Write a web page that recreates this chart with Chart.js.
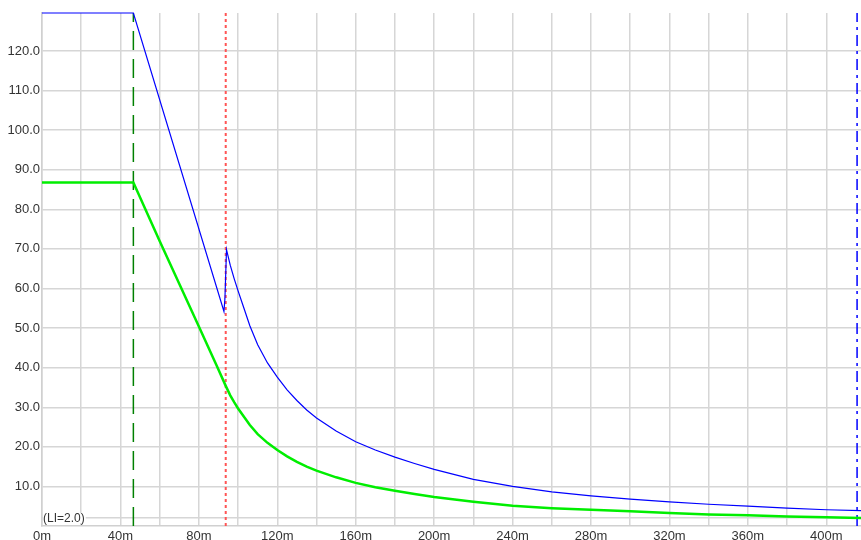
<!DOCTYPE html>
<html>
<head>
<meta charset="utf-8">
<script src="https://cdn.jsdelivr.net/npm/chart.js@4/dist/chart.umd.min.js"></script>
<style>
    html, body { margin: 0; padding: 0; background: #fff; }
    #wrap { width: 861px; height: 540px; position: relative; }
</style>
</head>
<body>
<div id="wrap"><canvas id="profile"></canvas></div>
<script>
// upper curve (blue)
const blueDist = [0, 46.6, 92.8, 93.3, 94.1, 96, 98, 100, 103, 106, 110, 115, 120, 125, 130, 135, 140, 150, 160, 170, 180, 190, 200, 220, 240, 260, 280, 300, 320, 340, 360, 380, 400, 417.7];
const blueVals = [129.6, 129.6, 54.2, 57.5, 69.8, 65.9, 62.5, 59.4, 55.0, 50.6, 45.8, 41.2, 37.6, 34.4, 31.7, 29.3, 27.3, 24.0, 21.3, 19.2, 17.4, 15.8, 14.3, 11.8, 10.0, 8.6, 7.6, 6.8, 6.1, 5.5, 5.0, 4.5, 4.1, 3.9];

// lower curve (green)
const greenDist = [0, 46.6, 60, 70, 80, 89, 93.7, 96, 98, 100, 103, 106, 110, 115, 120, 125, 130, 135, 140, 150, 160, 170, 180, 190, 200, 220, 240, 260, 280, 300, 320, 340, 360, 380, 400, 417.7];
const greenVals = [86.8, 86.8, 72.0, 61.2, 50.4, 40.6, 35.4, 33.0, 31.3, 29.7, 27.6, 25.5, 23.2, 21.0, 19.2, 17.6, 16.2, 15.0, 14.0, 12.3, 10.9, 9.8, 8.9, 8.1, 7.3, 6.1, 5.1, 4.5, 4.1, 3.7, 3.3, 2.9, 2.7, 2.4, 2.2, 2.0];

// vertical markers
const markerDist = [46.6, 93.7, 415.7];
const markerColors = ['#008000', '#ff5555', '#0000ff'];
const markerWidths = [1.5, 2, 1.5];
const markerDashes = [[19, 9], [3, 3], [11, 5, 3, 5]];

// tick values
const xTicks = [0, 20, 40, 60, 80, 100, 120, 140, 160, 180, 200, 220, 240, 260, 280, 300, 320, 340, 360, 380, 400];
const yTicks = [2, 10, 20, 30, 40, 50, 60, 70, 80, 90, 100, 110, 120];
const limitValue = 2.0;
const xMax = 417.7;
const yMax = 129.6;

const toPoints = (xs, ys) => xs.map((x, i) => ({ x: x, y: ys[i] }));

const datasets = [
    {
        data: toPoints(greenDist, greenVals),
        borderColor: '#00ee00',
        borderWidth: 2.5,
        pointRadius: 0,
        tension: 0,
        clip: 4
    },
    {
        data: toPoints(blueDist, blueVals),
        borderColor: '#0000ff',
        borderWidth: 1.2,
        pointRadius: 0,
        tension: 0,
        clip: 4
    }
];
markerDist.forEach((d, i) => {
    datasets.push({
        data: [{ x: d, y: 0 }, { x: d, y: yMax }],
        borderColor: markerColors[i],
        borderWidth: markerWidths[i],
        borderDash: markerDashes[i],
        pointRadius: 0
    });
});

const limitLabel = {
    id: 'limitLabel',
    afterDatasetsDraw(chart) {
        const ctx = chart.ctx;
        const y = chart.scales.y.getPixelForValue(limitValue);
        const x = chart.chartArea.left + 1;
        const text = '(LI=' + limitValue.toFixed(1) + ')';
        ctx.save();
        ctx.font = '12px "Liberation Sans", Arial, sans-serif';
        const w = ctx.measureText(text).width;
        ctx.fillStyle = '#ffffff';
        ctx.fillRect(x, y - 5, w + 1, 10);
        ctx.fillStyle = '#333333';
        ctx.textBaseline = 'middle';
        ctx.fillText(text, x, y + 0.5);
        ctx.restore();
    }
};

new Chart(document.getElementById('profile'), {
    type: 'line',
    data: { datasets },
    options: {
        responsive: true,
        maintainAspectRatio: false,
        animation: false,
        layout: { padding: { top: 13, right: 0, left: 0, bottom: 0 } },
        plugins: { legend: { display: false }, tooltip: { enabled: false } },
        scales: {
            x: {
                type: 'linear',
                min: 0,
                max: xMax,
                afterBuildTicks: (scale) => { scale.ticks = xTicks.map(v => ({ value: v })); },
                afterFit: (scale) => { scale.height = 14; },
                grid: { color: '#d6d6d6', lineWidth: 1.5, drawTicks: false },
                border: { color: '#d0d0d0', width: 1.5 },
                ticks: {
                    autoSkip: false,
                    maxRotation: 0,
                    padding: 3,
                    color: '#333',
                    font: { family: '"Liberation Sans", Arial, sans-serif', size: 13 },
                    callback: (v) => (v % 40 === 0 ? v + 'm' : '')
                }
            },
            y: {
                min: 0,
                max: yMax,
                afterBuildTicks: (scale) => { scale.ticks = yTicks.map(v => ({ value: v })); },
                afterFit: (scale) => { scale.width = 42; },
                grid: { color: '#d6d6d6', lineWidth: 1.5, drawTicks: false },
                border: { color: '#d0d0d0', width: 1.5 },
                ticks: {
                    padding: 2,
                    color: '#333',
                    font: { family: '"Liberation Sans", Arial, sans-serif', size: 13 },
                    callback: (v) => (v === limitValue ? '' : v.toFixed(1))
                }
            }
        }
    },
    plugins: [limitLabel]
});
</script>
</body>
</html>
